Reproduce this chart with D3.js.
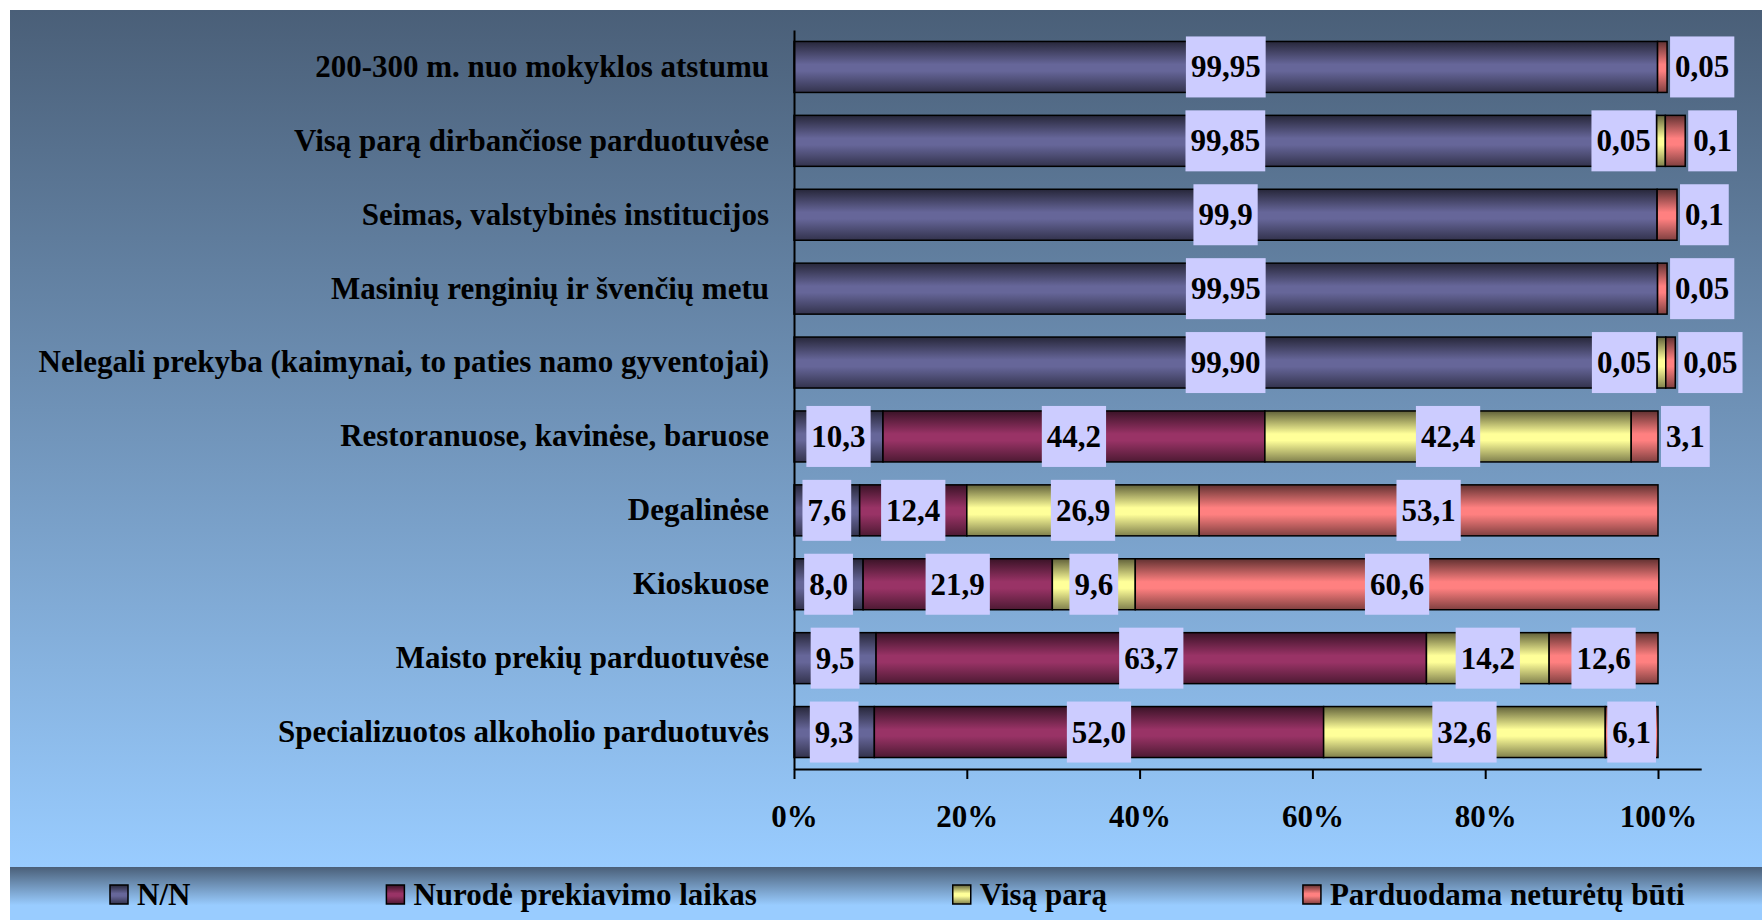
<!DOCTYPE html>
<html>
<head>
<meta charset="utf-8">
<script src="https://cdn.jsdelivr.net/npm/d3@7"></script>
<style>
    html, body { margin: 0; padding: 0; background: #ffffff; }
    svg { display: block; }
    text { font-family: "Liberation Serif", "Times New Roman", serif; font-weight: bold; fill: #000; }
</style>
</head>
<body>
<svg id="chart"></svg>
<script>
// categories, top to bottom
const categories = [
    "200-300 m. nuo mokyklos atstumu",
    "Visą parą dirbančiose parduotuvėse",
    "Seimas, valstybinės institucijos",
    "Masinių renginių ir švenčių metu",
    "Nelegali prekyba (kaimynai, to paties namo gyventojai)",
    "Restoranuose, kavinėse, baruose",
    "Degalinėse",
    "Kioskuose",
    "Maisto prekių parduotuvėse",
    "Specializuotos alkoholio parduotuvės"
];

const seriesNames = ["N/N", "Nurodė prekiavimo laikas", "Visą parą", "Parduodama neturėtų būti"];
const seriesColors = ["#666699", "#993366", "#ffff99", "#ff8080"];

// segment lengths as drawn in the picture (the tiny 0,05 / 0,1 slivers are drawn wider than their value)
const nnValues = [99.95, 99.85, 99.9, 99.95, 99.9, 10.3, 7.6, 8.0, 9.5, 9.3];
const laikasValues = [0, 0, 0, 0, 0, 44.2, 12.4, 21.9, 63.7, 52.0];
const parosValues = [0, 1.0, 0, 0, 1.0, 42.4, 26.9, 9.6, 14.2, 32.6];
const neturetuValues = [1.1, 2.3, 2.3, 1.1, 1.1, 3.1, 53.1, 60.6, 12.6, 6.1];

// label texts as printed on the chart
const nnLabels = ["99,95", "99,85", "99,9", "99,95", "99,90", "10,3", "7,6", "8,0", "9,5", "9,3"];
const laikasLabels = ["", "", "", "", "", "44,2", "12,4", "21,9", "63,7", "52,0"];
const parosLabels = ["", "0,05", "", "", "0,05", "42,4", "26,9", "9,6", "14,2", "32,6"];
const neturetuLabels = ["0,05", "0,1", "0,1", "0,05", "0,05", "3,1", "53,1", "60,6", "12,6", "6,1"];

const xTicks = [0, 20, 40, 60, 80, 100];

const width = 1762, height = 920;
const fontSize = 31;

const svg = d3.select("#chart").attr("width", width).attr("height", height);
const defs = svg.append("defs");

// background gradients
const bg = defs.append("linearGradient").attr("id", "bg-grad")
    .attr("x1", 0).attr("y1", 0).attr("x2", 0).attr("y2", 1);
bg.append("stop").attr("offset", "0%").attr("stop-color", "#4a5f78");
bg.append("stop").attr("offset", "100%").attr("stop-color", "#99ccff");

const lg = defs.append("linearGradient").attr("id", "legend-grad")
    .attr("x1", 0).attr("y1", 0).attr("x2", 0).attr("y2", 1);
lg.append("stop").attr("offset", "0%").attr("stop-color", "#4a5f78");
lg.append("stop").attr("offset", "72%").attr("stop-color", "#99ccff");
lg.append("stop").attr("offset", "100%").attr("stop-color", "#99ccff");

// cylinder-like shading for each series
seriesColors.forEach((c, i) => {
    const g = defs.append("linearGradient").attr("id", "bar-grad-" + i)
        .attr("x1", 0).attr("y1", 0).attr("x2", 0).attr("y2", 1);
    g.append("stop").attr("offset", "0%").attr("stop-color", d3.interpolateRgb(c, "#000")(0.62));
    g.append("stop").attr("offset", "45%").attr("stop-color", c);
    g.append("stop").attr("offset", "58%").attr("stop-color", c);
    g.append("stop").attr("offset", "100%").attr("stop-color", d3.interpolateRgb(c, "#000")(0.5));
});

svg.append("rect").attr("x", 10).attr("y", 10).attr("width", width - 10).attr("height", 857)
    .attr("fill", "url(#bg-grad)");
svg.append("rect").attr("x", 10).attr("y", 867).attr("width", width - 10).attr("height", height - 867)
    .attr("fill", "url(#legend-grad)");

// scales
const x = d3.scaleLinear().domain([0, 105]).range([794, 794 + 8.64 * 105]);
const y = d3.scaleBand().domain(categories).range([30, 769])
    .paddingInner(0.31).paddingOuter(0.155);

// stack the series
const rows = categories.map((cat, i) => ({
    cat: cat,
    s0: nnValues[i], s1: laikasValues[i], s2: parosValues[i], s3: neturetuValues[i]
}));
const labelSets = [nnLabels, laikasLabels, parosLabels, neturetuLabels];
const stacked = d3.stack().keys(["s0", "s1", "s2", "s3"])(rows);

const barLayer = svg.append("g");
stacked.forEach((layer, si) => {
    barLayer.selectAll(null)
        .data(layer.filter(d => d[1] - d[0] > 0))
        .enter()
        .append("rect")
        .attr("x", d => x(d[0]))
        .attr("y", d => y(d.data.cat))
        .attr("width", d => x(d[1]) - x(d[0]))
        .attr("height", y.bandwidth())
        .attr("fill", "url(#bar-grad-" + si + ")")
        .attr("stroke", "#000")
        .attr("stroke-width", 1.5);
});

// axes
const xAxis = svg.append("g")
    .attr("transform", `translate(0,769)`)
    .call(d3.axisBottom(x).tickValues(xTicks).tickSize(10).tickSizeOuter(0)
        .tickPadding(26).tickFormat(d => d + "%"));
xAxis.selectAll("path, line").attr("stroke", "#000").attr("stroke-width", 2);
xAxis.selectAll("text").attr("font-size", fontSize).attr("fill", "#000")
    .attr("font-family", "Liberation Serif, serif").attr("font-weight", "bold");

const yAxis = svg.append("g")
    .attr("transform", `translate(794,0)`)
    .call(d3.axisLeft(y).tickSize(0).tickPadding(25));
yAxis.select(".domain").attr("stroke", "#000").attr("stroke-width", 2);
yAxis.selectAll("text").attr("font-size", fontSize).attr("fill", "#000")
    .attr("font-family", "Liberation Serif, serif").attr("font-weight", "bold");

// data labels in lavender boxes
const labelLayer = svg.append("g");
const boxH = y.bandwidth() + 10;
stacked.forEach((layer, si) => {
    layer.forEach((d, ri) => {
        const txt = labelSets[si][ri];
        if (!txt) return;
        const cy = y(d.data.cat) + y.bandwidth() / 2;
        const g = labelLayer.append("g");
        const box = g.append("rect").attr("fill", "#ccccff");
        const t = g.append("text")
            .attr("font-size", fontSize)
            .attr("text-anchor", "middle")
            .attr("y", cy + 10.5)
            .text(txt);
        const w = t.node().getComputedTextLength() + 10;
        const x0 = x(d[0]), x1 = x(d[1]);
        let left;
        if (w <= (x1 - x0) + 8) {
            left = (x0 + x1) / 2 - w / 2;
        } else if (si === stacked.length - 1) {
            left = x1 + 3; // tiny last slice: label pushed past the bar end
        } else {
            left = x0 - 1 - w; // tiny middle slice: label sits before it
        }
        box.attr("x", left).attr("y", cy - boxH / 2).attr("width", w).attr("height", boxH);
        t.attr("x", left + w / 2);
    });
});

// legend, laid out left to right
const legend = svg.append("g");
let lx = 110;
seriesNames.forEach((name, i) => {
    legend.append("rect")
        .attr("x", lx).attr("y", 885).attr("width", 18).attr("height", 19)
        .attr("fill", "url(#bar-grad-" + i + ")")
        .attr("stroke", "#000").attr("stroke-width", 1.5);
    const t = legend.append("text")
        .attr("x", lx + 27).attr("y", 905)
        .attr("font-size", fontSize)
        .text(name);
    lx += 27 + t.node().getComputedTextLength() + 196;
});
</script>
</body>
</html>
